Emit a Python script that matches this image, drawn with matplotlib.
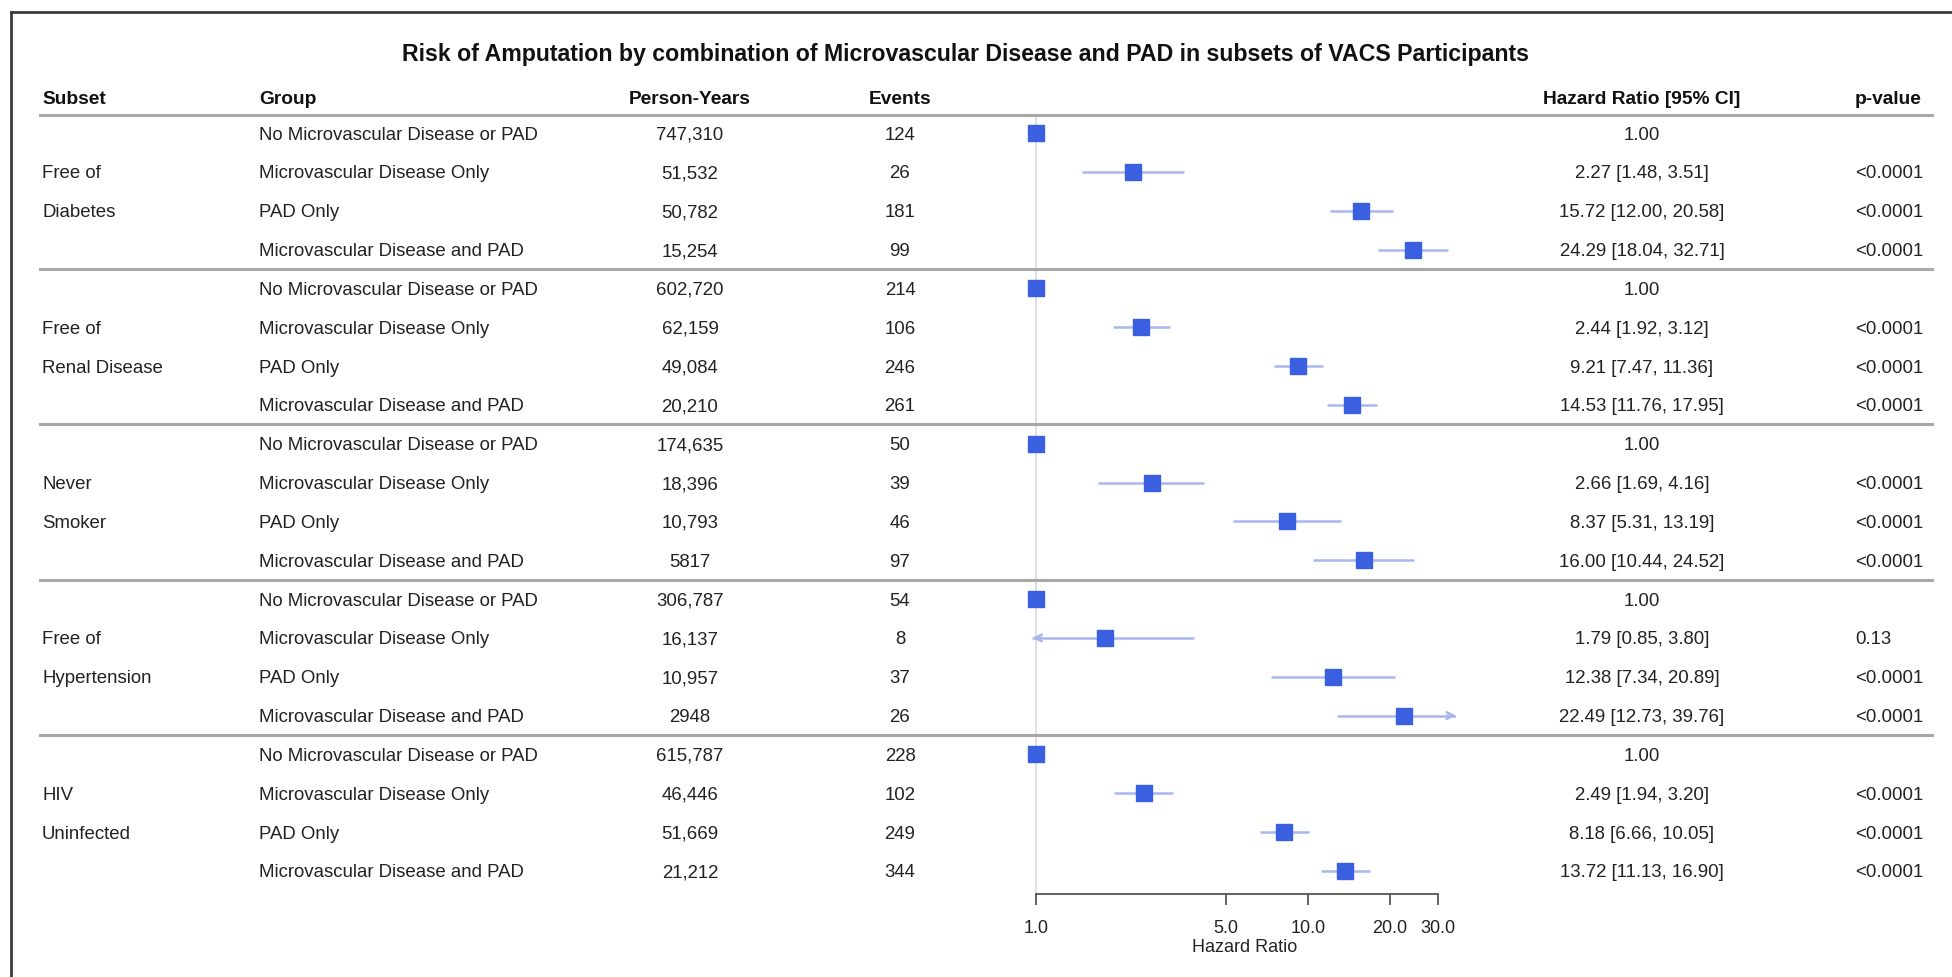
import numpy as np
import matplotlib
matplotlib.use("Agg")
import matplotlib.pyplot as plt
import matplotlib.transforms as mtransforms
from matplotlib.lines import Line2D

plt.rcParams['font.family'] = ['Liberation Sans', 'DejaVu Sans']

# ---- data ----
title = "Risk of Amputation by combination of Microvascular Disease and PAD in subsets of VACS Participants"
headers = ["Subset", "Group", "Person-Years", "Events", "Hazard Ratio [95% CI]", "p-value"]

subset_line1 = ["Free of", "Free of", "Never", "Free of", "HIV"]
subset_line2 = ["Diabetes", "Renal Disease", "Smoker", "Hypertension", "Uninfected"]

group_names = ["No Microvascular Disease or PAD", "Microvascular Disease Only",
               "PAD Only", "Microvascular Disease and PAD"]

person_years = ["747,310", "51,532", "50,782", "15,254",
                "602,720", "62,159", "49,084", "20,210",
                "174,635", "18,396", "10,793", "5817",
                "306,787", "16,137", "10,957", "2948",
                "615,787", "46,446", "51,669", "21,212"]
events = [124, 26, 181, 99,
          214, 106, 246, 261,
          50, 39, 46, 97,
          54, 8, 37, 26,
          228, 102, 249, 344]
hr = [1.00, 2.27, 15.72, 24.29,
      1.00, 2.44, 9.21, 14.53,
      1.00, 2.66, 8.37, 16.00,
      1.00, 1.79, 12.38, 22.49,
      1.00, 2.49, 8.18, 13.72]
ci_lo = [np.nan, 1.48, 12.00, 18.04,
         np.nan, 1.92, 7.47, 11.76,
         np.nan, 1.69, 5.31, 10.44,
         np.nan, 0.85, 7.34, 12.73,
         np.nan, 1.94, 6.66, 11.13]
ci_hi = [np.nan, 3.51, 20.58, 32.71,
         np.nan, 3.12, 11.36, 17.95,
         np.nan, 4.16, 13.19, 24.52,
         np.nan, 3.80, 20.89, 39.76,
         np.nan, 3.20, 10.05, 16.90]
p_values = ["", "<0.0001", "<0.0001", "<0.0001",
            "", "<0.0001", "<0.0001", "<0.0001",
            "", "<0.0001", "<0.0001", "<0.0001",
            "", "0.13", "<0.0001", "<0.0001",
            "", "<0.0001", "<0.0001", "<0.0001"]
xticks = [1.0, 5.0, 10.0, 20.0, 30.0]

# ---- layout ----
W, H = 1952, 977
fig = plt.figure(figsize=(W / 100, H / 100), dpi=100)

def fx(px):
    return px / W

xmin, xmax = 0.97, 35.0
decade = 272.0
x_one = 1036.0
left_px = x_one + decade * np.log10(xmin)
right_px = x_one + decade * np.log10(xmax)
row0_px, row_step = 133.0, 38.84
top_px, bot_px = 117.0, 894.0
y_top = (top_px - row0_px) / row_step
y_bot = (bot_px - row0_px) / row_step

ax = fig.add_axes([fx(left_px), 1 - bot_px / H,
                   fx(right_px - left_px), (bot_px - top_px) / H])
ax.set_xscale('log')
ax.set_xlim(xmin, xmax)
ax.set_ylim(y_bot, y_top)
ax.patch.set_alpha(0)
for s in ['top', 'right', 'left']:
    ax.spines[s].set_visible(False)
ax.spines['bottom'].set_bounds(1, 30)
ax.spines['bottom'].set_color('#555555')
ax.spines['bottom'].set_linewidth(1.3)
ax.set_yticks([])
ax.set_xticks(xticks)
ax.set_xticklabels([f"{t:.1f}" for t in xticks])
ax.xaxis.set_minor_locator(matplotlib.ticker.NullLocator())
ax.tick_params(axis='x', direction='out', length=8, width=1.3, color='#555555',
               labelsize=13, labelcolor='#222222', pad=11)
ax.set_xlabel("Hazard Ratio", fontsize=13, color='#222222', labelpad=1)

ax.axvline(1.0, color='#dddddd', lw=1.3, zorder=0)

box_col = '#3a5fdf'
ci_col = '#a9b7ef'
rows = np.arange(len(hr))
for i in rows:
    if not np.isnan(ci_lo[i]):
        a = max(ci_lo[i], xmin)
        b = min(ci_hi[i], xmax)
        ax.plot([a, b], [i, i], color=ci_col, lw=1.8, zorder=2, solid_capstyle='butt')
        if ci_lo[i] < xmin:
            ax.annotate("", xy=(xmin, i), xytext=(xmin * 1.08, i),
                        arrowprops=dict(arrowstyle='->', color=ci_col, lw=1.8,
                                        shrinkA=0, shrinkB=0, mutation_scale=12))
        if ci_hi[i] > xmax:
            ax.annotate("", xy=(xmax, i), xytext=(xmax / 1.08, i),
                        arrowprops=dict(arrowstyle='->', color=ci_col, lw=1.8,
                                        shrinkA=0, shrinkB=0, mutation_scale=12))
ax.plot(hr, rows, 's', color=box_col, ms=11.5, mec=box_col, zorder=3, clip_on=False)

# ---- table text ----
blend = mtransforms.blended_transform_factory(fig.transFigure, ax.transData)
txt_kw = dict(transform=blend, fontsize=13.4, color='#222222', va='center_baseline')
hdr_kw = dict(transform=blend, fontsize=13.8, color='#111111', va='center_baseline',
              fontweight='bold')

hdr_y = (97 - row0_px) / row_step
col_x = [42, 259, 690, 900, 1642, 1855]
col_ha = ['left', 'left', 'center', 'center', 'center', 'left']
for h, x, ha in zip(headers, col_x, col_ha):
    ax.text(fx(x), hdr_y, h, ha=ha, **hdr_kw)

for i in rows:
    ax.text(fx(col_x[1]), i, group_names[i % 4], ha='left', **txt_kw)
    ax.text(fx(col_x[2]), i, person_years[i], ha='center', **txt_kw)
    ax.text(fx(col_x[3]), i, str(events[i]), ha='center', **txt_kw)
    if np.isnan(ci_lo[i]):
        s = f"{hr[i]:.2f}"
    else:
        s = f"{hr[i]:.2f} [{ci_lo[i]:.2f}, {ci_hi[i]:.2f}]"
    ax.text(fx(col_x[4]), i, s, ha='center', **txt_kw)
    ax.text(fx(col_x[5]), i, p_values[i], ha='left', **txt_kw)

for k in range(len(subset_line1)):
    ax.text(fx(col_x[0]), 4 * k + 1, subset_line1[k], ha='left', **txt_kw)
    ax.text(fx(col_x[0]), 4 * k + 2, subset_line2[k], ha='left', **txt_kw)

# header underline and subset separators
line_y = [(115 - row0_px) / row_step, 3.5, 7.5, 11.5, 15.5]
for y in line_y:
    ax.plot([fx(40), fx(1932)], [y, y], transform=blend, color='#a8a8a8',
            lw=2.2, clip_on=False, zorder=1)

fig.text(fx(965), 1 - 52 / H, title, ha='center', va='center_baseline',
         fontsize=16.7, fontweight='bold', color='#111111')

# outer frame (top and left edges)
fig.add_artist(Line2D([fx(11), 1], [1 - 12 / H, 1 - 12 / H], transform=fig.transFigure,
                      color='#3a3a3a', lw=2))
fig.add_artist(Line2D([fx(11), fx(11)], [0, 1 - 12 / H], transform=fig.transFigure,
                      color='#3a3a3a', lw=2))

fig.savefig("out.png", dpi=100)
